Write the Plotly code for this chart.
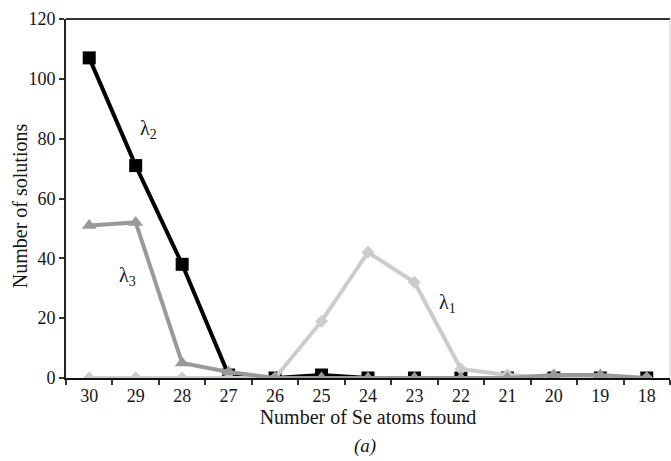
import plotly.graph_objects as go

# Number of Se atoms found (category axis, descending)
atoms = ["30", "29", "28", "27", "26", "25", "24", "23", "22", "21", "20", "19", "18"]

# Number of solutions per wavelength
lambda1 = [0, 0, 0, 0, 0, 19, 42, 32, 3, 1, 0, 0, 0]
lambda2 = [107, 71, 38, 1, 0, 1, 0, 0, 0, 0, 0, 0, 0]
lambda3 = [51, 52, 5, 2, 0, 0, 0, 0, 0, 0, 1, 1, 0]

serif = "Liberation Serif, Times New Roman, serif"
ink = "#151515"

fig = go.Figure()

fig.add_trace(go.Scatter(
    x=atoms, y=lambda2, mode="lines+markers", name="λ2",
    line=dict(color="#000000", width=4),
    marker=dict(symbol="square", size=13, color="#000000"),
))
fig.add_trace(go.Scatter(
    x=atoms, y=lambda1, mode="lines+markers", name="λ1",
    line=dict(color="#cccccc", width=4),
    marker=dict(symbol="diamond", size=10, color="#cccccc"),
))
fig.add_trace(go.Scatter(
    x=atoms, y=lambda3, mode="lines+markers", name="λ3",
    line=dict(color="#999999", width=4),
    marker=dict(symbol="triangle-up", size=13, color="#999999"),
))

# Series labels
for txt, cat, yv in [("λ<sub>2</sub>", 1.27, 83), ("λ<sub>3</sub>", 0.82, 34), ("λ<sub>1</sub>", 7.72, 25)]:
    fig.add_annotation(x=cat, y=yv, xref="x", yref="y", text=txt, showarrow=False,
                       font=dict(family=serif, size=20, color=ink))

# Y-axis title, placed as a rotated label left of the tick labels
fig.add_annotation(x=-0.077, y=0.48, xref="paper", yref="paper", text="Number of solutions",
                   textangle=-90, showarrow=False, xanchor="center", yanchor="middle",
                   font=dict(family=serif, size=20, color=ink))

fig.add_annotation(x=0.495, y=-0.225, xref="paper", yref="paper", text="<i>(a)</i>",
                   showarrow=False, font=dict(family=serif, size=19, color=ink))

# Frame: dark top edge, faint right edge
fig.add_shape(type="line", xref="paper", yref="paper", x0=0, x1=1, y0=1, y1=1,
              line=dict(color="#333333", width=2))
fig.add_shape(type="line", xref="paper", yref="paper", x0=1, x1=1, y0=0, y1=1,
              line=dict(color="#cccccc", width=1))

fig.update_layout(
    width=671, height=461,
    margin=dict(l=66, r=1, t=19, b=83),
    paper_bgcolor="white", plot_bgcolor="white",
    showlegend=False,
    font=dict(family=serif, color=ink),
    xaxis=dict(
        type="category", range=[-0.5, 12.5],
        showgrid=False, zeroline=False,
        showline=True, linecolor="#111111", linewidth=2,
        ticks="outside", tickson="boundaries", ticklen=5, tickwidth=1.5, tickcolor="#333333",
        tickfont=dict(family=serif, size=18, color=ink),
        title=dict(text="Number of Se atoms found", standoff=2,
                   font=dict(family=serif, size=20, color=ink)),
    ),
    yaxis=dict(
        range=[0, 120], tickvals=[0, 20, 40, 60, 80, 100, 120],
        showgrid=False, zeroline=False,
        showline=True, linecolor="#222222", linewidth=2,
        ticks="outside", ticklen=5, tickwidth=1.5, tickcolor="#333333",
        tickfont=dict(family=serif, size=18, color=ink),
    ),
)

fig.write_html("out.html")
